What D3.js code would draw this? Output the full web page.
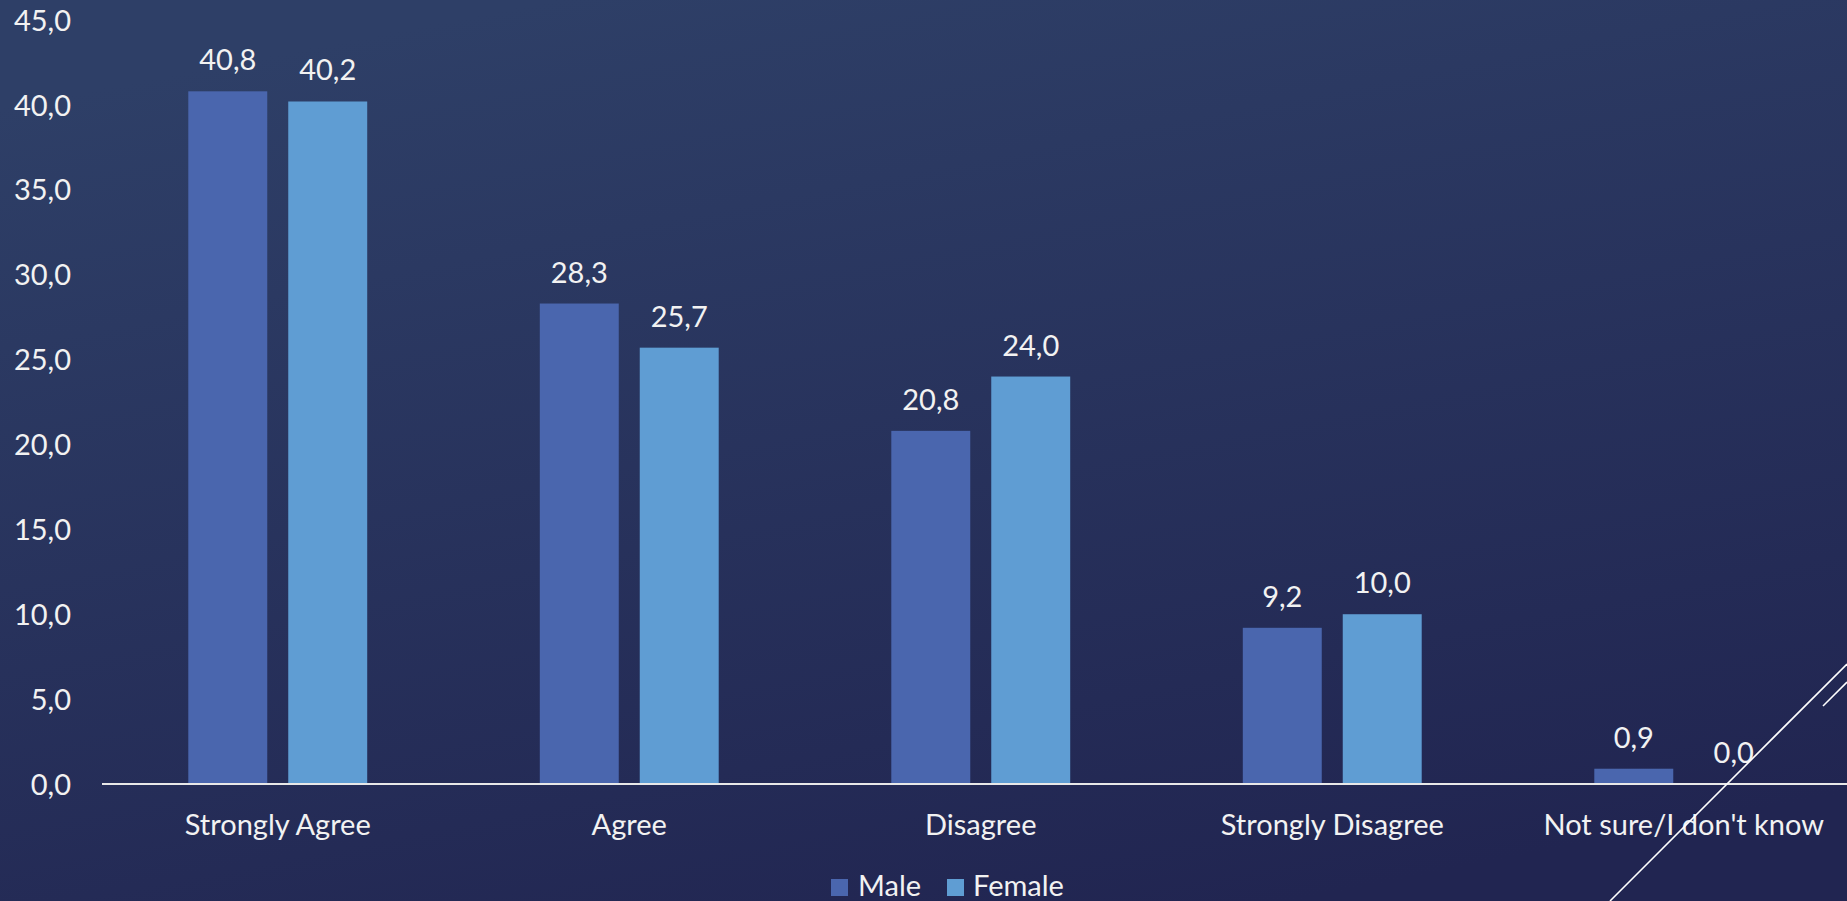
<!DOCTYPE html>
<html><head><meta charset="utf-8">
<script src="https://cdn.jsdelivr.net/npm/d3@7"></script>
<style>
html,body{margin:0;padding:0;overflow:hidden;background:#26305a;}
text{font-family:"Lato","Open Sans",sans-serif;font-weight:400;fill:#f2f2f2;}
</style></head>
<body><svg id="chart" width="1847" height="901"></svg>
<script>
const categories = ["Strongly Agree","Agree","Disagree","Strongly Disagree","Not sure/I don't know"];
const seriesNames = ["Male","Female"];
const maleValues = [40.8, 28.3, 20.8, 9.2, 0.9];
const femaleValues = [40.2, 25.7, 24.0, 10.0, 0.0];
const yTicks = [0,5,10,15,20,25,30,35,40,45];
const colors = {Male:"#4a66ae", Female:"#5f9dd3"};

const W = 1847, H = 901;
const FS = 29;
const svg = d3.select("#chart");
const defs = svg.append("defs");
const grad = defs.append("linearGradient").attr("id","bg").attr("x1","0.3").attr("y1","0").attr("x2","0.7").attr("y2","1");
grad.append("stop").attr("offset","0").attr("stop-color","#2e3f67");
grad.append("stop").attr("offset","1").attr("stop-color","#212551");
svg.append("rect").attr("width",W).attr("height",H).attr("fill","url(#bg)");

const left = 102, right = 1859.5, y0 = 784, yTop = 20;
const x0 = d3.scaleBand().domain(categories).range([left,right]).paddingInner(0.491).paddingOuter(0.2455);
const x1 = d3.scaleBand().domain(seriesNames).range([0,x0.bandwidth()]).paddingInner(0.21);
const y = d3.scaleLinear().domain([0,45]).range([y0,yTop]);
const fmt = v => d3.format(".1f")(v).replace(".",",");

// y axis labels
const yAxis = d3.axisLeft(y).tickValues(yTicks).tickFormat(fmt).tickSize(0).tickPadding(0);
const ya = svg.append("g").attr("transform","translate(71,0)").call(yAxis);
ya.select(".domain").remove();
ya.selectAll("text").attr("font-size",FS).attr("fill","#f2f2f2").style("font-family","Lato").attr("dy","0.35em");

const data = categories.map((c,i)=>({cat:c, vals:[{s:"Male",v:maleValues[i]},{s:"Female",v:femaleValues[i]}]}));
const groups = svg.append("g").selectAll("g").data(data).join("g")
  .attr("transform",d=>`translate(${x0(d.cat)},0)`);
groups.selectAll("rect").data(d=>d.vals).join("rect")
  .attr("x",d=>x1(d.s)).attr("width",x1.bandwidth())
  .attr("y",d=>y(d.v)).attr("height",d=>y0-y(d.v))
  .attr("fill",d=>colors[d.s]);
groups.selectAll("text.lbl").data(d=>d.vals).join("text").attr("class","lbl")
  .attr("x",d=>x1(d.s)+x1.bandwidth()/2).attr("y",d=>y(d.v)-21)
  .attr("text-anchor","middle").attr("font-size",FS).text(d=>fmt(d.v));

// x axis
const xAxis = d3.axisBottom(x0).tickSize(0).tickPadding(0);
const xa = svg.append("g").attr("transform",`translate(0,${y0})`).call(xAxis);
xa.select(".domain").attr("stroke","#e8e8e8").attr("stroke-width",2).attr("d",`M${left},0H${right}`);
xa.selectAll("text").attr("font-size",FS).attr("y",51).attr("dy",0).attr("fill","#f2f2f2").style("font-family","Lato");

// legend
const legend = svg.append("g");
const legItems = [{s:"Male",x:831,tx:858},{s:"Female",x:947,tx:973}];
legItems.forEach(it=>{
  legend.append("rect").attr("x",it.x).attr("y",879).attr("width",17).attr("height",17).attr("fill",colors[it.s]);
  legend.append("text").attr("x",it.tx).attr("y",896).attr("font-size",FS).text(it.s);
});

// decorative lines
svg.append("line").attr("x1",1610).attr("y1",901).attr("x2",1847).attr("y2",664).attr("stroke","#ffffff").attr("stroke-width",1.6);
svg.append("line").attr("x1",1823).attr("y1",706).attr("x2",1847).attr("y2",682).attr("stroke","#ffffff").attr("stroke-width",1.6);
</script></body></html>
